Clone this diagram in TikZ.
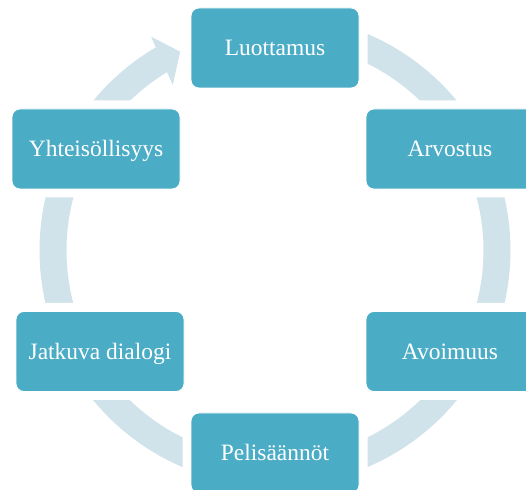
\documentclass[tikz,border=0pt]{standalone}
\usepackage{fontspec}
\setmainfont{Liberation Serif}
\usetikzlibrary{backgrounds}
\definecolor{boxblue}{HTML}{4BACC6}
\definecolor{ringblue}{HTML}{D0E2EA}
\begin{document}
\begin{tikzpicture}[x=0.75pt,y=0.75pt,
  stepbox/.style={rectangle, rounded corners=6pt, fill=boxblue, draw=white,
    line width=0.6pt, minimum width=126pt, minimum height=60pt, inner sep=0pt,
    text=white, font=\fontsize{17.6}{20}\selectfont, text height=11.65pt,
    text depth=0pt, preaction={draw=white, line width=12.75pt}},
  ringseg/.style={draw=ringblue, line width=20.25pt, line cap=butt},
  ringhead/.style={fill=ringblue}]
\useasboundingbox (0,0) rectangle (526,490);
\coordinate (C) at (275,239.5);
\node[stepbox] (luo) at (275,442) {Luottamus};
\node[stepbox] (arv) at (450,341) {Arvostus};
\node[stepbox] (avo) at (450,138.5) {Avoimuus};
\node[stepbox] (pel) at (275,37) {Pelisäännöt};
\node[stepbox] (jat) at (100,138.5) {Jatkuva dialogi};
\node[stepbox] (yht) at (96,341) {Yhteisöllisyys};
\begin{pgfonlayer}{background}
  \draw[ringseg] ([shift={(90:222)}]C) arc[start angle=90, end angle=30, radius=222];
  \draw[ringseg] ([shift={(30:222)}]C) arc[start angle=30, end angle=-30, radius=222];
  \draw[ringseg] ([shift={(-30:222)}]C) arc[start angle=-30, end angle=-90, radius=222];
  \draw[ringseg] ([shift={(-90:222)}]C) arc[start angle=-90, end angle=-150, radius=222];
  \draw[ringseg] ([shift={(210:222)}]C) arc[start angle=210, end angle=150, radius=222];
  \draw[ringseg] ([shift={(150:222)}]C) arc[start angle=150, end angle=120, radius=222];
  \fill[ringhead] ([shift={(120.1:247.2)}]C) -- ([shift={(115.5:220.3)}]C)
    -- ([shift={(121.7:194.6)}]C) -- cycle;
\end{pgfonlayer}
\end{tikzpicture}
\end{document}
